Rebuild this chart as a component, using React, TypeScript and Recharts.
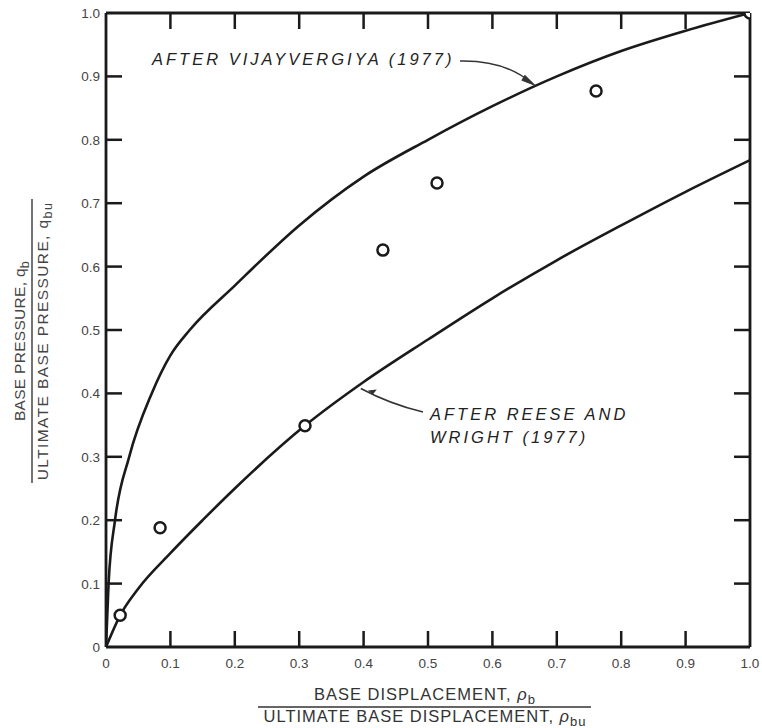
import React from 'react';
import { ComposedChart, Line, Scatter, XAxis, YAxis } from 'recharts';

// curves (x = rho_b / rho_bu, y = q_b / q_bu)
const vijayvergiyaCurve = [
  { x: 0, y: 0 },
  { x: 0.004, y: 0.1 },
  { x: 0.014, y: 0.2 },
  { x: 0.036, y: 0.3 },
  { x: 0.071, y: 0.4 },
  { x: 0.1, y: 0.46 },
  { x: 0.13, y: 0.5 },
  { x: 0.2, y: 0.57 },
  { x: 0.3, y: 0.665 },
  { x: 0.4, y: 0.742 },
  { x: 0.5, y: 0.8 },
  { x: 0.6, y: 0.853 },
  { x: 0.7, y: 0.9 },
  { x: 0.8, y: 0.94 },
  { x: 0.9, y: 0.972 },
  { x: 1, y: 1 },
];

const reeseWrightCurve = [
  { x: 0, y: 0 },
  { x: 0.022, y: 0.05 },
  { x: 0.05, y: 0.092 },
  { x: 0.1, y: 0.148 },
  { x: 0.15, y: 0.2 },
  { x: 0.2, y: 0.25 },
  { x: 0.31, y: 0.35 },
  { x: 0.4, y: 0.418 },
  { x: 0.5, y: 0.485 },
  { x: 0.6, y: 0.55 },
  { x: 0.7, y: 0.61 },
  { x: 0.8, y: 0.665 },
  { x: 0.9, y: 0.718 },
  { x: 1, y: 0.768 },
];

const measured = [
  { x: 0.022, y: 0.05 },
  { x: 0.084, y: 0.188 },
  { x: 0.309, y: 0.349 },
  { x: 0.43, y: 0.626 },
  { x: 0.514, y: 0.732 },
  { x: 0.761, y: 0.877 },
  { x: 1, y: 1 },
];

const ticks = [0, 0.1, 0.2, 0.3, 0.4, 0.5, 0.6, 0.7, 0.8, 0.9, 1];
const innerTicks = ticks.filter((t) => t > 0 && t < 1);

const W = 762;
const H = 728;
// plot box: x 106..750, y 13..647 (axes take 1px each)
const M = { top: 12, right: 11, bottom: 80, left: 105 };
const PLOT = { left: 106, top: 13, width: 644, height: 634 };
const px = (v: number) => PLOT.left + v * PLOT.width;
const py = (v: number) => PLOT.top + (1 - v) * PLOT.height;

const INK = '#1a1a1a';
const LABEL = '#444';
const TICK_LEN = 16; // ticks point into the plot on all four sides
const FONT = '"Liberation Sans", Arial, Helvetica, sans-serif';

const fmt = (v: number) => (v === 0 ? '0' : v.toFixed(1));

const BottomTick = (props: any) => {
  const { x, y, payload } = props;
  return (
    <text x={x} y={y + 21} textAnchor="middle" fill={LABEL} fontSize={13.5} fontFamily={FONT}>
      {fmt(payload.value)}
    </text>
  );
};

const LeftTick = (props: any) => {
  const { x, y, payload } = props;
  return (
    <text x={x - 6} y={y + 5} textAnchor="end" fill={LABEL} fontSize={13.5} fontFamily={FONT}>
      {fmt(payload.value)}
    </text>
  );
};

const OpenCircle = (props: any) => {
  const { cx, cy } = props;
  return <circle cx={cx} cy={cy} r={5.5} fill="#fff" stroke={INK} strokeWidth={2.5} />;
};

const axisLine = { stroke: INK, strokeWidth: 2.8 };

const Annotations = () => {
  const italic = {
    fontFamily: FONT,
    fontStyle: 'italic' as const,
    fontSize: 16.5,
    letterSpacing: 3,
    fill: '#222',
  };
  const tip1 = { x: px(0.666), y: py(0.886) };
  const tip2 = { x: px(0.391), y: py(0.411) };
  const x0 = px(0);
  const x1 = px(1);
  const y0 = py(0);
  const y1 = py(1);
  return (
    <svg width={W} height={H} style={{ position: 'absolute', left: 0, top: 0, pointerEvents: 'none' }}>
      {/* inward tick marks */}
      <g stroke={INK} strokeWidth={2.5}>
        {innerTicks.map((t) => (
          <g key={t}>
            <line x1={px(t)} y1={y0} x2={px(t)} y2={y0 - TICK_LEN} />
            <line x1={px(t)} y1={y1} x2={px(t)} y2={y1 + TICK_LEN} />
            <line x1={x0} y1={py(t)} x2={x0 + TICK_LEN} y2={py(t)} />
            <line x1={x1} y1={py(t)} x2={x1 - TICK_LEN} y2={py(t)} />
          </g>
        ))}
      </g>

      <text x={152} y={65} {...italic}>AFTER VIJAYVERGIYA (1977)</text>
      <path d={`M460,61 Q505,60 ${tip1.x - 3},${tip1.y - 2}`} fill="none" stroke="#333" strokeWidth={1.6} />
      <path d={`M${tip1.x},${tip1.y} l-13,-5 l3,-5 z`} fill="#333" stroke="#333" strokeWidth={1} />
      <text x={430} y={420} {...italic}>AFTER REESE AND</text>
      <text x={430} y={443} {...italic}>WRIGHT (1977)</text>
      <path d={`M423,412 Q390,404 ${tip2.x + 3},${tip2.y + 2}`} fill="none" stroke="#333" strokeWidth={1.6} />
      <path d={`M${tip2.x + 10},${tip2.y + 4} l5,4 l4,-5 z`} fill="#333" />

      {/* x axis title */}
      <text x={425} y={700} textAnchor="middle" fontFamily={FONT} fontSize={16.5} fill="#333" letterSpacing={1}>
        BASE DISPLACEMENT,{' '}
        <tspan fontStyle="italic">ρ</tspan>
        <tspan fontSize={13} dy={4}>b</tspan>
      </text>
      <line x1={258} y1={707} x2={591} y2={707} stroke="#333" strokeWidth={1.5} />
      <text x={425} y={722} textAnchor="middle" fontFamily={FONT} fontSize={16.5} fill="#333" letterSpacing={1}>
        ULTIMATE BASE DISPLACEMENT,{' '}
        <tspan fontStyle="italic">ρ</tspan>
        <tspan fontSize={13} dy={4}>bu</tspan>
      </text>

      {/* y axis title */}
      <g transform="translate(0,341) rotate(-90)">
        <text x={0} y={25} textAnchor="middle" fontFamily={FONT} fontSize={15.5} fill="#444" letterSpacing={0.3}>
          BASE PRESSURE, q
          <tspan fontSize={12.5} dy={4}>b</tspan>
        </text>
        <line x1={-142} y1={32} x2={142} y2={32} stroke="#444" strokeWidth={1.5} />
        <text x={0} y={48} textAnchor="middle" fontFamily={FONT} fontSize={15.5} fill="#444" letterSpacing={1.4}>
          ULTIMATE BASE PRESSURE, q
          <tspan fontSize={12.5} dy={4}>bu</tspan>
        </text>
      </g>
    </svg>
  );
};

export default function App() {
  return (
    <div style={{ position: 'absolute', left: 0, top: 0, width: W, height: H, background: '#fff' }}>
      <ComposedChart width={W} height={H} margin={M}>
        <XAxis
          xAxisId={0}
          type="number"
          dataKey="x"
          domain={[0, 1]}
          ticks={ticks}
          interval={0}
          allowDataOverflow
          height={1}
          tickSize={0}
          tickMargin={0}
          tickLine={false}
          axisLine={axisLine}
          tick={<BottomTick />}
        />
        <XAxis
          xAxisId="top"
          orientation="top"
          type="number"
          domain={[0, 1]}
          allowDataOverflow
          height={1}
          tickLine={false}
          axisLine={axisLine}
          tick={false}
        />
        <YAxis
          yAxisId={0}
          type="number"
          domain={[0, 1]}
          ticks={ticks}
          interval={0}
          allowDataOverflow
          width={1}
          tickSize={0}
          tickMargin={0}
          tickLine={false}
          axisLine={axisLine}
          tick={<LeftTick />}
        />
        <YAxis
          yAxisId="right"
          orientation="right"
          type="number"
          domain={[0, 1]}
          allowDataOverflow
          width={1}
          tickLine={false}
          axisLine={axisLine}
          tick={false}
        />
        <Line
          data={vijayvergiyaCurve}
          dataKey="y"
          type="monotone"
          stroke={INK}
          strokeWidth={2.6}
          dot={false}
          activeDot={false}
          isAnimationActive={false}
        />
        <Line
          data={reeseWrightCurve}
          dataKey="y"
          type="monotone"
          stroke={INK}
          strokeWidth={2.6}
          dot={false}
          activeDot={false}
          isAnimationActive={false}
        />
        <Scatter data={measured} dataKey="y" shape={<OpenCircle />} isAnimationActive={false} />
      </ComposedChart>
      <Annotations />
    </div>
  );
}
